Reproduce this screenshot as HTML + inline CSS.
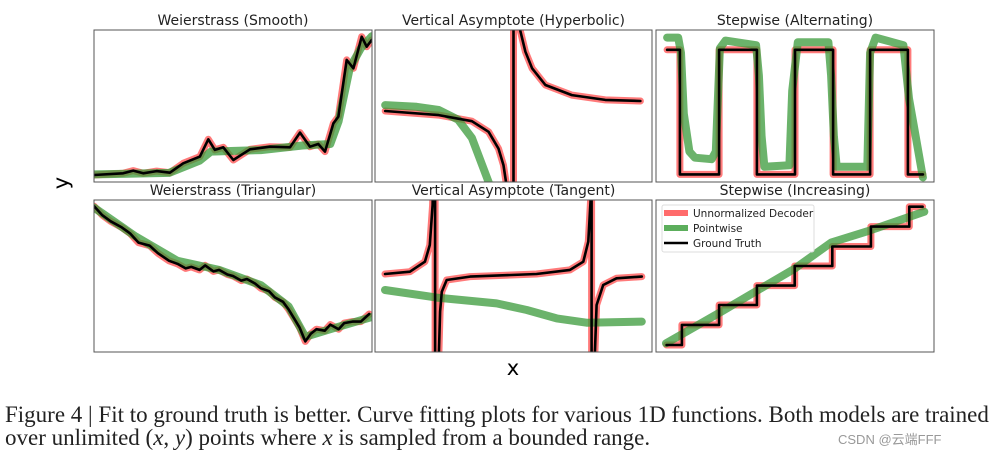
<!DOCTYPE html>
<html><head><meta charset="utf-8"><style>
html,body{margin:0;background:#fff;width:990px;height:463px;overflow:hidden}
body{position:relative;font-family:"DejaVu Sans","Liberation Sans",sans-serif}
.cap{position:absolute;left:5px;font-family:"Liberation Serif",serif;font-size:23px;line-height:24px;height:24px;color:#222;white-space:nowrap}
</style></head><body>
<svg id="fig" width="990" height="380" style="position:absolute;left:0;top:0" xmlns="http://www.w3.org/2000/svg">
<text x="68" y="183" font-size="21" transform="rotate(-90 68 183)" text-anchor="middle" font-family="DejaVu Sans">y</text>
<text x="513" y="375" font-size="21" text-anchor="middle" font-family="DejaVu Sans">x</text>
</svg>
<div class="cap" style="top:403px">Figure 4 | Fit to ground truth is better. Curve fitting plots for various 1D functions. Both models are trained</div>
<div class="cap" style="top:426px">over unlimited (<i>x</i>, <i>y</i>) points where <i>x</i> is sampled from a bounded range.</div>
<div style="position:absolute;left:838px;top:432px;font-size:13px;line-height:16px;color:#999;font-family:'Liberation Sans','Noto Sans CJK SC',sans-serif">CSDN @云端FFF</div>
<script>
// Weierstrass smooth
const ws_gx=[0,.105,.141,.177,.225,.273,.321,.381,.411,.435,.465,.501,.561,.633,.705,.741,.777,.807,.831,.861,.879,.909,.933,.963,.981,.999];
const ws_gy=[.046,.057,.075,.057,.072,.061,.123,.167,.281,.211,.228,.145,.215,.232,.228,.325,.232,.25,.2,.386,.43,.803,.748,.956,.89,.934];
const ws_px=[0,.27,.38,.42,.6,.75,.85,.88,.92,.96,1];
const ws_py=[.05,.06,.14,.2,.21,.24,.25,.4,.75,.88,.96];
// Weierstrass triangular
const wt_gx=[0,.03,.06,.1,.13,.16,.2,.23,.27,.3,.33,.35,.38,.4,.43,.45,.48,.5,.53,.55,.58,.6,.63,.65,.68,.7,.72,.74,.76,.78,.8,.83,.85,.88,.9,.93,.96,.99];
const wt_gy=[.96,.9,.86,.82,.78,.72,.7,.65,.6,.58,.55,.56,.54,.57,.53,.54,.51,.5,.47,.48,.45,.42,.4,.36,.33,.28,.22,.16,.07,.12,.15,.14,.18,.15,.19,.2,.2,.25];
const wt_px=[0,.15,.3,.45,.6,.7,.76,.85,1];
const wt_py=[.95,.76,.6,.54,.44,.3,.1,.15,.23];
// Hyperbolic
const hy_gx=[.037,.23,.35,.41,.446,.464,.473,.48,.5,.5,.515,.524,.543,.567,.615,.711,.831,.958];
const hy_gy=[.467,.44,.40,.33,.22,.11,0,-.5,-3,3,1.5,1.0,.857,.748,.638,.572,.54,.533];
const hy_px=[.037,.15,.23,.30,.35,.41,.43];
const hy_py=[.506,.495,.474,.41,.29,0,-.1];
// Tangent
const tg_gx=[.036,.126,.18,.198,.208,.214,.217,.217,.226,.235,.241,.259,.343,.583,.704,.752,.77,.778,.782,.782,.788,.8,.824,.872,.963];
const tg_gy=[.513,.528,.594,.704,.967,1.5,3,-3,-.3,.265,.397,.474,.496,.513,.54,.594,.726,.989,3,-3,-.3,.309,.441,.485,.496];
const tg_px=[.036,.223,.439,.548,.656,.764,.963];
const tg_py=[.408,.358,.32,.276,.221,.193,.2];
// Alternating
const al_gx=[.04,.086,.086,.227,.227,.363,.363,.5,.5,.637,.637,.77,.77,.906,.906,.96];
const al_gy=[.87,.87,.05,.05,.87,.87,.05,.05,.87,.87,.05,.05,.87,.87,.05,.05];
const al_px=[.04,.08,.09,.1,.12,.14,.2,.215,.23,.25,.36,.37,.38,.39,.48,.49,.51,.62,.63,.64,.65,.76,.77,.79,.89,.91,.96];
const al_py=[.95,.95,.85,.45,.2,.16,.15,.2,.88,.93,.9,.7,.3,.1,.11,.6,.92,.92,.7,.3,.1,.1,.85,.95,.9,.55,.03];
// Increasing
const in_gx=[.038,.093,.093,.227,.227,.363,.363,.499,.499,.634,.634,.773,.773,.911,.911,.959];
const in_gy=[.046,.046,.178,.178,.309,.309,.437,.437,.566,.566,.694,.694,.825,.825,.956,.956];
const in_px=[.036,.23,.36,.5,.63,.77,.965];
const in_py=[.057,.26,.4,.55,.72,.8,.923];

const NS='http://www.w3.org/2000/svg';
const svg=document.getElementById('fig');
const panels=[
 {x:94,y:30,w:278,h:152,t:'Weierstrass (Smooth)',n:'weierstrass-smooth'},
 {x:375,y:30,w:277,h:152,t:'Vertical Asymptote (Hyperbolic)',n:'asymptote-hyperbolic'},
 {x:656,y:30,w:278,h:152,t:'Stepwise (Alternating)',n:'stepwise-alternating'},
 {x:94,y:200,w:278,h:152,t:'Weierstrass (Triangular)',n:'weierstrass-triangular'},
 {x:375,y:200,w:277,h:152,t:'Vertical Asymptote (Tangent)',n:'asymptote-tangent'},
 {x:656,y:200,w:278,h:152,t:'Stepwise (Increasing)',n:'stepwise-increasing'}];
function mk(tag,attrs,parent){const e=document.createElementNS(NS,tag);for(const k in attrs)e.setAttribute(k,attrs[k]);(parent||svg).appendChild(e);return e;}
const groups=panels.map((p,i)=>{
 const cp=mk('clipPath',{id:'c'+i});mk('rect',{x:p.x,y:p.y,width:p.w,height:p.h},cp);
 const g=mk('g',{'clip-path':'url(#c'+i+')'});
 
 
 const t=mk('text',{x:p.x+p.w/2,y:p.y-5,'text-anchor':'middle','font-size':14,fill:'#222'});
 
 
 t.textContent=p.t;
 return g;});
function sx(p,v){return p.x+v*p.w;}
function sy(p,v){return p.y+p.h-v*p.h;}
function line(i,xs,ys,kind){
 const p=panels[i];const pts=xs.map((v,k)=>sx(p,v).toFixed(1)+','+sy(p,ys[k]).toFixed(1)).join(' ');
 const st={gt:['#000',2.6,1],red:['#ff4d4d',7,.75],green:['#3a9a3a',8,.75]}[kind];
 const e=mk('polyline',{points:pts,fill:'none',stroke:st[0],'stroke-width':st[1],'stroke-opacity':st[2],'stroke-linejoin':'round','stroke-linecap':'round'},groups[i]);
 
 
}
function trio(i,gx,gy,px,py){line(i,gx,gy,'red');line(i,px,py,'green');line(i,gx,gy,'gt');}
trio(0,ws_gx,ws_gy,ws_px,ws_py);
trio(1,hy_gx,hy_gy,hy_px,hy_py);
trio(2,al_gx,al_gy,al_px,al_py);
trio(3,wt_gx,wt_gy,wt_px,wt_py);
trio(4,tg_gx,tg_gy,tg_px,tg_py);
trio(5,in_gx,in_gy,in_px,in_py);
panels.forEach(p=>{const r=mk('rect',{x:p.x,y:p.y,width:p.w,height:p.h,fill:'none',stroke:'#555','stroke-width':1});
 
 });
// legend
const lg=mk('g',{});


mk('rect',{x:662,y:205,width:152,height:47,fill:'#fff','fill-opacity':.85,stroke:'#ddd',rx:2},lg);
[['Unnormalized Decoder','#ff6b6b',6],['Pointwise','#5cae5c',6],['Ground Truth','#000',2.5]].forEach((e,k)=>{
 const y=213+k*15;
 mk('line',{x1:664,x2:688,y1:y,y2:y,stroke:e[1],'stroke-width':e[2]},lg);
 const t=mk('text',{x:693,y:y+4,'font-size':10.5,fill:'#222'},lg);
 
 
 t.textContent=e[0];});
</script>
</body></html>
